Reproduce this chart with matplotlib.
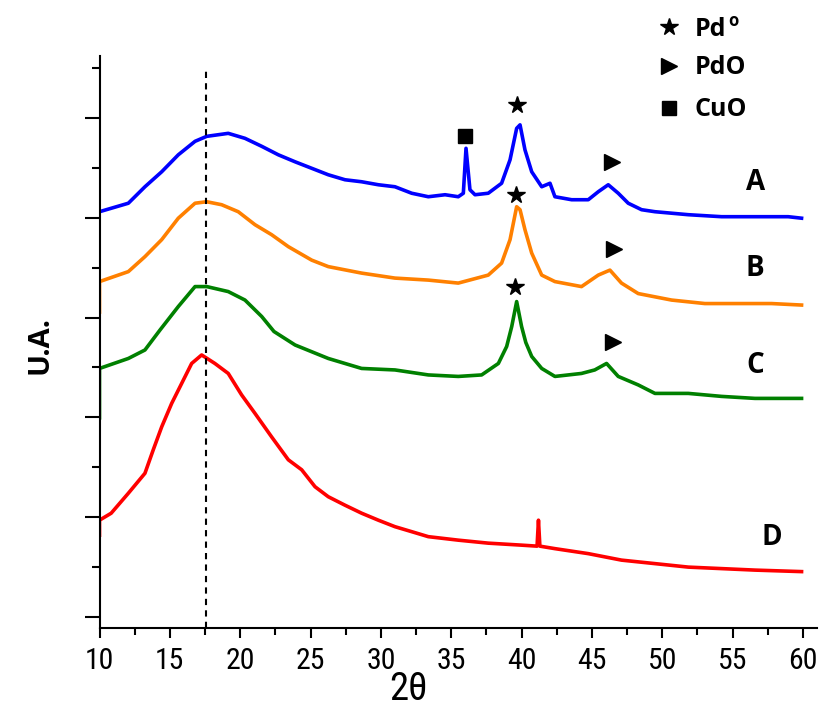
import matplotlib
matplotlib.use('Agg')
import matplotlib.pyplot as plt
from matplotlib.ticker import MultipleLocator

# XRD patterns (2theta, arbitrary intensity with offsets)
theta_a = [10.0, 12.05, 13.23, 14.42, 15.6, 16.79, 17.62, 19.15, 20.34, 21.53, 22.71, 23.9,
           25.08, 26.26, 27.45, 28.63, 29.82, 31.0, 32.19, 33.37, 34.56, 35.5, 35.86, 36.05,
           36.33, 36.69, 37.63, 38.58, 39.18, 39.65, 39.89, 40.24, 40.72, 41.43, 42.02, 42.37,
           43.56, 44.74, 45.45, 46.16, 46.87, 47.58, 48.53, 49.48, 51.85, 54.22, 56.59, 58.95, 59.9]
int_a = [8.12, 8.29, 8.62, 8.92, 9.26, 9.53, 9.63, 9.69, 9.59, 9.43, 9.26, 9.12,
         8.99, 8.86, 8.76, 8.72, 8.66, 8.62, 8.49, 8.42, 8.46, 8.42, 8.49, 9.39,
         8.56, 8.46, 8.49, 8.69, 9.16, 9.79, 9.86, 9.36, 8.92, 8.62, 8.69, 8.42,
         8.36, 8.36, 8.52, 8.66, 8.49, 8.29, 8.16, 8.12, 8.06, 8.02, 8.02, 8.02, 7.99]

theta_b = [10.0, 10.0, 12.05, 13.23, 14.42, 15.6, 16.79, 17.62, 18.68, 19.86, 21.05, 22.23, 23.42,
           25.08, 26.26, 28.63, 31.0, 33.37, 35.5, 37.63, 38.58, 39.18, 39.65, 39.89, 40.24,
           40.72, 41.43, 42.37, 44.26, 45.45, 46.28, 47.1, 48.29, 50.66, 53.03, 55.4, 57.77, 59.9]
int_b = [6.11, 6.72, 6.92, 7.22, 7.56, 7.99, 8.29, 8.32, 8.26, 8.12, 7.86, 7.66, 7.42,
         7.15, 7.02, 6.89, 6.79, 6.75, 6.69, 6.85, 7.09, 7.56, 8.22, 8.16, 7.76,
         7.29, 6.85, 6.72, 6.62, 6.85, 6.95, 6.69, 6.48, 6.35, 6.28, 6.28, 6.28, 6.25]

theta_c = [10.0, 10.0, 12.05, 13.23, 14.3, 15.6, 16.79, 17.62, 19.15, 20.34, 21.53, 22.4, 23.9,
           26.26, 28.63, 31.0, 33.37, 35.5, 37.16, 38.35, 38.94, 39.3, 39.65, 40.0, 40.3,
           40.72, 41.43, 42.37, 44.26, 45.2, 46.04, 46.87, 48.29, 49.48, 51.85, 54.22, 56.59, 59.9]
int_c = [3.99, 4.98, 5.18, 5.35, 5.75, 6.22, 6.62, 6.62, 6.52, 6.35, 6.02, 5.72, 5.45,
         5.18, 4.98, 4.95, 4.85, 4.82, 4.85, 5.08, 5.42, 5.82, 6.32, 5.82, 5.5,
         5.22, 4.98, 4.82, 4.88, 4.95, 5.08, 4.82, 4.65, 4.48, 4.48, 4.42, 4.38, 4.38]

theta_d = [10.0, 10.0, 10.83, 12.05, 13.23, 13.82, 14.42, 15.13, 15.84, 16.55, 17.26, 18.2, 19.15,
           20.1, 21.05, 22.23, 23.42, 24.37, 25.32, 26.26, 27.45, 28.63, 29.82, 31.0, 32.19,
           33.37, 35.5, 37.63, 40.0, 41.1, 41.2, 41.3, 42.37, 44.74, 47.1, 49.48, 51.85,
           54.22, 56.59, 59.9]
int_d = [1.64, 1.94, 2.08, 2.48, 2.88, 3.35, 3.81, 4.28, 4.68, 5.08, 5.25, 5.08, 4.88,
         4.45, 4.08, 3.61, 3.15, 2.95, 2.61, 2.41, 2.24, 2.08, 1.94, 1.81, 1.71,
         1.61, 1.54, 1.48, 1.44, 1.42, 1.94, 1.42, 1.37, 1.27, 1.14, 1.07, 1.0,
         0.97, 0.94, 0.91]

series = [
    (theta_a, int_a, '#0000ff', 'A', 56.6, 8.70),
    (theta_b, int_b, '#ff8000', 'B', 56.6, 6.99),
    (theta_c, int_c, '#008000', 'C', 56.6, 5.03),
    (theta_d, int_d, '#ff0000', 'D', 57.8, 1.60),
]

# phase markers above the peaks
pd_marks = [(39.65, 10.26), (39.6, 8.46), (39.53, 6.61)]
pdo_marks = [(46.43, 9.12), (46.57, 7.37), (46.5, 5.51)]
cuo_marks = [(35.98, 9.64)]

ref_line = 17.6

bold_font = ['Open Sans', 'Noto Sans', 'DejaVu Sans']
narrow_font = ['Roboto Condensed', 'Liberation Sans Narrow', 'Roboto', 'DejaVu Sans']

fig = plt.figure(figsize=(8.19, 7.13), dpi=100)
ax = fig.add_axes([0.1215, 0.1192, 0.8761, 0.8023])

for th, it, col, lab, lx, ly in series:
    ax.plot(th, it, color=col, lw=2.6, solid_joinstyle='round')
    ax.text(lx, ly, lab, fontsize=20, fontweight='bold', family=bold_font,
            ha='center', va='center')

ax.plot([ref_line, ref_line], [-0.22, 11.0], color='black', ls=(0, (3, 2.5)), lw=1.5)

ax.plot(*zip(*pd_marks), ls='none', marker='*', ms=13, color='black')
ax.plot(*zip(*pdo_marks), ls='none', marker='>', ms=11, color='black')
ax.plot(*zip(*cuo_marks), ls='none', marker='s', ms=10, color='black')

# legend drawn above the axes
ax.plot([50.48], [11.82], marker='*', ms=13, color='black', clip_on=False)
ax.plot([50.48], [11.04], marker='>', ms=11, color='black', clip_on=False)
ax.plot([50.48], [10.20], marker='s', ms=10, color='black', clip_on=False)
ax.text(52.3, 11.78, 'Pd', fontsize=18, fontweight='bold', family=bold_font, va='center')
ax.text(54.7, 11.95, 'o', fontsize=12, fontweight='bold', family=bold_font, va='center')
ax.text(52.3, 11.00, 'PdO', fontsize=18, fontweight='bold', family=bold_font, va='center')
ax.text(52.3, 10.16, 'CuO', fontsize=18, fontweight='bold', family=bold_font, va='center')

ax.set_xlim(10, 61.0)
ax.set_ylim(-0.22, 11.24)
ax.xaxis.set_major_locator(MultipleLocator(5))
ax.xaxis.set_minor_locator(MultipleLocator(2.5))
ax.yaxis.set_major_locator(MultipleLocator(2))
ax.yaxis.set_minor_locator(MultipleLocator(1))
ax.set_xticks(range(10, 61, 5))
ax.set_yticklabels([])
ax.tick_params(axis='y', which='major', length=11, width=1.5, labelleft=False)
ax.tick_params(axis='y', which='minor', length=6, width=1.5)
ax.tick_params(axis='x', which='major', length=7, width=1.5, pad=7)
ax.tick_params(axis='x', which='minor', length=5, width=1.5)
for lbl in ax.get_xticklabels():
    lbl.set_family(narrow_font)
    lbl.set_fontsize(21.5)

ax.spines['top'].set_visible(False)
ax.spines['right'].set_visible(False)
ax.spines['left'].set_linewidth(1.5)
ax.spines['bottom'].set_linewidth(1.5)

fig.text(408 / 819, 1 - 690 / 713, '2θ', fontsize=28, ha='center', va='center',
         family=narrow_font)
fig.text(40 / 819, 1 - 345 / 713, 'U.A.', fontsize=21, fontweight='bold', rotation=90,
         ha='center', va='center', family=bold_font)

fig.savefig('out.png', dpi=100)
